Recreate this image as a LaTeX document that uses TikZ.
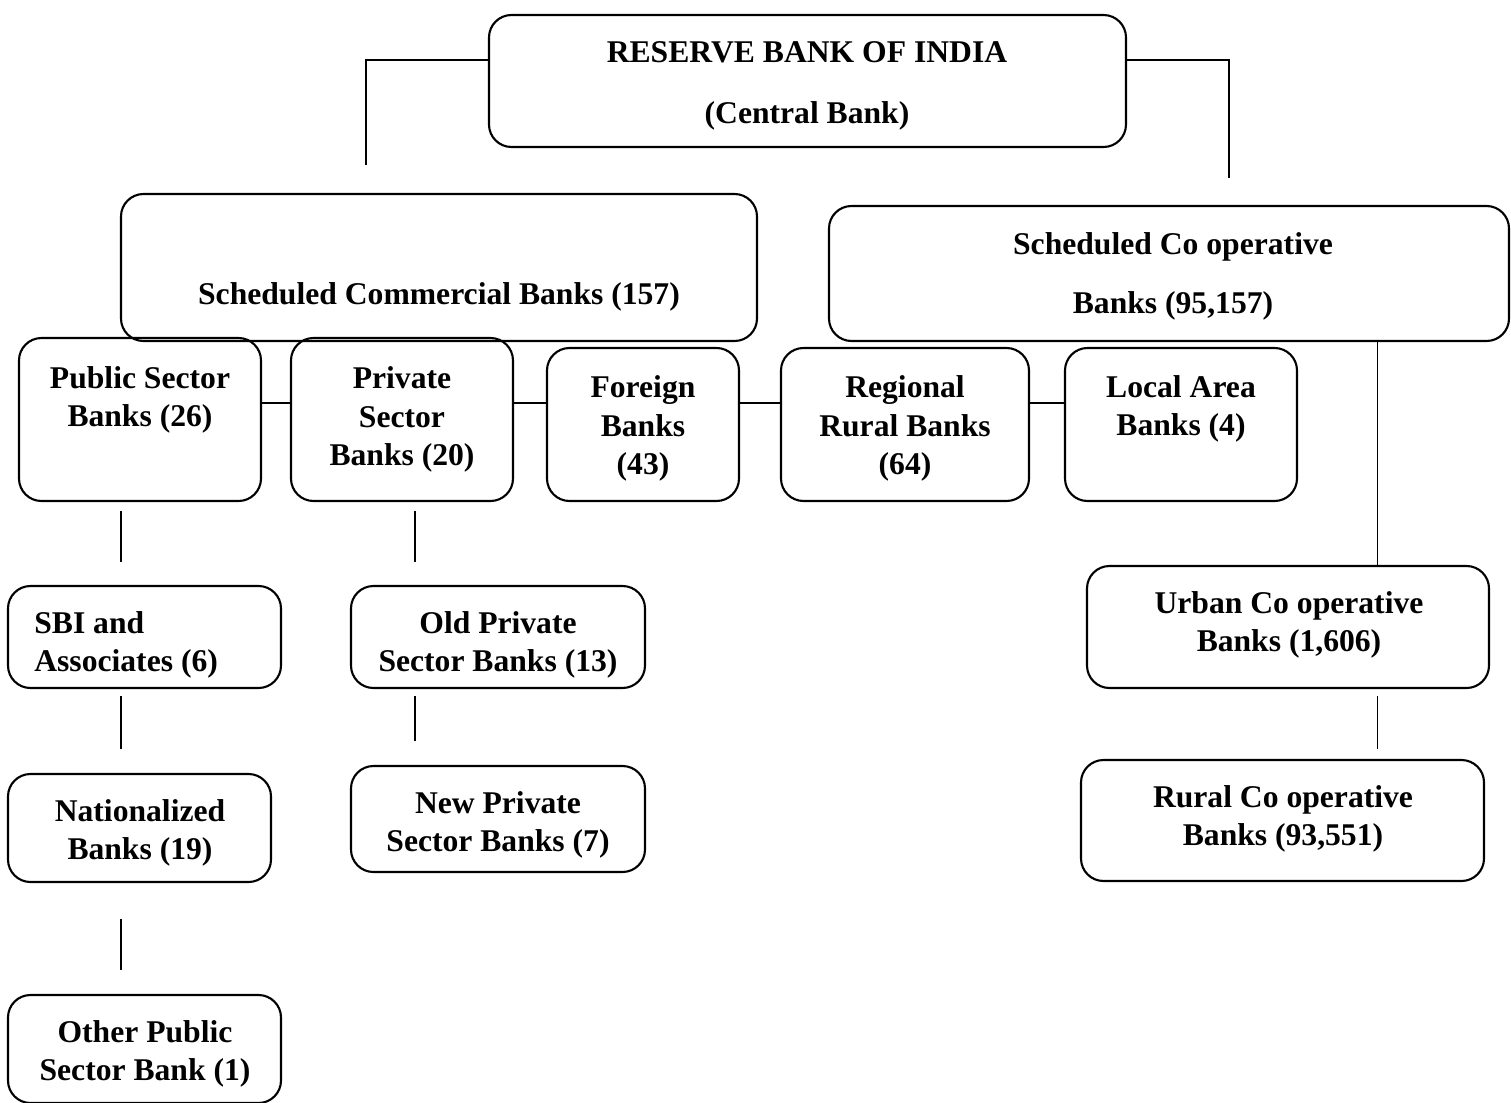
\documentclass[tikz,border=0pt]{standalone}
\usepackage{fontspec}
\setmainfont{Liberation Serif}
\usepackage{tikz}
\usetikzlibrary{calc}

% one pixel of the layout
\newdimen\pxu
\pxu=0.02cm

\tikzset{
    bankbox/.style={draw, line width=1.2pt, rounded corners=0.45cm, inner sep=0pt},
    banktext/.style={font=\bfseries\fontsize{18}{22}\selectfont, align=center, inner sep=0pt, yshift=-3.5\pxu},
    link/.style={line width=1pt}
}

\begin{document}
\begin{tikzpicture}[x=0.02cm, y=-0.02cm]
    \useasboundingbox (0,0) rectangle (1511,1102);

    % Boxes
    \node[bankbox, minimum width=637\pxu, minimum height=132\pxu] (rbi) at (807.5,81) {};
    \node[bankbox, minimum width=636\pxu, minimum height=147\pxu] (scb) at (439,267.5) {};
    \node[bankbox, minimum width=680\pxu, minimum height=135\pxu] (scob) at (1169,273.5) {};
    \node[bankbox, minimum width=242\pxu, minimum height=163\pxu] (psb) at (140,419.5) {};
    \node[bankbox, minimum width=222\pxu, minimum height=163\pxu] (pvt) at (402,419.5) {};
    \node[bankbox, minimum width=192\pxu, minimum height=153\pxu] (frn) at (643,424.5) {};
    \node[bankbox, minimum width=248\pxu, minimum height=153\pxu] (rrb) at (905,424.5) {};
    \node[bankbox, minimum width=232\pxu, minimum height=153\pxu] (lab) at (1181,424.5) {};
    \node[bankbox, minimum width=273\pxu, minimum height=102\pxu] (sbi) at (144.5,637) {};
    \node[bankbox, minimum width=263\pxu, minimum height=108\pxu] (nat) at (139.5,828) {};
    \node[bankbox, minimum width=273\pxu, minimum height=108\pxu] (opb) at (144.5,1049) {};
    \node[bankbox, minimum width=294\pxu, minimum height=102\pxu] (old) at (498,637) {};
    \node[bankbox, minimum width=294\pxu, minimum height=106\pxu] (new) at (498,819) {};
    \node[bankbox, minimum width=402\pxu, minimum height=122\pxu] (ucb) at (1288,627) {};
    \node[bankbox, minimum width=403\pxu, minimum height=121\pxu] (rcb) at (1282.5,820.5) {};

    % Texts
    \node[banktext] (rbit) at (807,82.5) {RESERVE BANK OF INDIA\\[22\pxu](Central Bank)};
    \node[banktext] (scbt) at (439,293) {Scheduled Commercial Banks (157)};
    \node[banktext] (scobt) at (1173,273) {Scheduled Co operative\\[21\pxu]Banks (95,157)};
    \node[banktext] (psbt) at (140,396.5) {Public Sector\\Banks (26)};
    \node[banktext] (pvtt) at (402,416) {Private\\Sector\\Banks (20)};
    \node[banktext] (frnt) at (643,425) {Foreign\\Banks\\(43)};
    \node[banktext] (rrbt) at (905,425) {Regional\\Rural Banks\\(64)};
    \node[banktext] (labt) at (1181,405.5) {Local Area\\Banks (4)};
    \node[banktext, align=left, anchor=west] (sbit) at (34,641.5) {SBI and\\Associates (6)};
    \node[banktext] (natt) at (140,829.5) {Nationalized\\Banks (19)};
    \node[banktext] (opbt) at (145,1050.5) {Other Public\\Sector Bank (1)};
    \node[banktext] (oldt) at (498,641.5) {Old Private\\Sector Banks (13)};
    \node[banktext] (newt) at (498,821.5) {New Private\\Sector Banks (7)};
    \node[banktext] (ucbt) at (1289,621.5) {Urban Co operative\\Banks (1,606)};
    \node[banktext] (rcbt) at (1283,815.5) {Rural Co operative\\Banks (93,551)};

    % Helper coordinates
    \coordinate (scbtop) at (366,165);
    \coordinate (scobtop) at (1229,178);
    \coordinate (row) at (0,403);
    \coordinate (pubcol) at (121,0);
    \coordinate (pvtcol) at (415,0);
    \coordinate (coopcol) at (1377.5,0);

    % Connectors
    \draw[link] ([yshift=21\pxu]rbi.west) -| (scbtop);
    \draw[link] ([yshift=21\pxu]rbi.east) -| (scobtop);
    \draw[link] (psb.east |- row) -- (pvt.west |- row);
    \draw[link] (pvt.east |- row) -- (frn.west |- row);
    \draw[link] (frn.east |- row) -- (rrb.west |- row);
    \draw[link] (rrb.east |- row) -- (lab.west |- row);
    \draw[link] (scob.south -| coopcol) -- (ucb.north -| coopcol);
    \draw[link, shorten <=7\pxu, shorten >=10\pxu] (ucb.south -| coopcol) -- (rcb.north -| coopcol);
    \draw[link, shorten <=9\pxu, shorten >=23\pxu] (psb.south -| pubcol) -- (sbi.north -| pubcol);
    \draw[link, shorten <=7\pxu, shorten >=24\pxu] (sbi.south -| pubcol) -- (nat.north -| pubcol);
    \draw[link, shorten <=36\pxu, shorten >=24\pxu] (nat.south -| pubcol) -- (opb.north -| pubcol);
    \draw[link, shorten <=9\pxu, shorten >=23\pxu] (pvt.south -| pvtcol) -- (old.north -| pvtcol);
    \draw[link, shorten <=7\pxu, shorten >=24\pxu] (old.south -| pvtcol) -- (new.north -| pvtcol);
\end{tikzpicture}
\end{document}
